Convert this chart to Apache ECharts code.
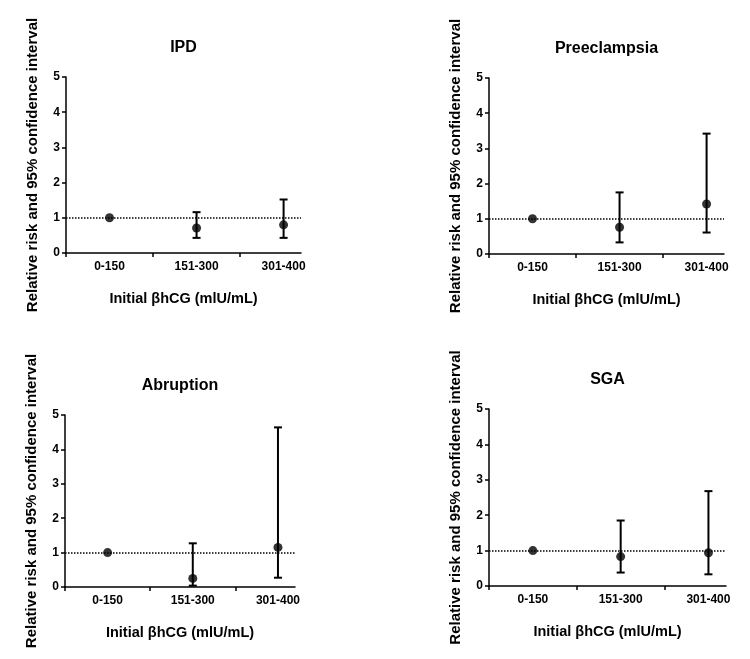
<!DOCTYPE html>
<html>
<head>
<meta charset="utf-8">
<script src="https://cdn.jsdelivr.net/npm/echarts@6/dist/echarts.min.js"></script>
<style>html,body{margin:0;padding:0;background:#fff;}#c{width:750px;height:659px;}</style>
</head>
<body>
<div id="c"></div>
<script>
const categories = ['0-150', '151-300', '301-400'];
const panelTitles = ['IPD', 'Preeclampsia', 'Abruption', 'SGA'];
const yTicks = [0, 1, 2, 3, 4, 5];
const refLine = 1;

const ipdRR   = [1, 0.71, 0.80];
const ipdLow  = [null, 0.43, 0.43];
const ipdHigh = [null, 1.16, 1.52];

const preRR   = [1, 0.76, 1.42];
const preLow  = [null, 0.33, 0.61];
const preHigh = [null, 1.75, 3.42];

const abrRR   = [1, 0.25, 1.15];
const abrLow  = [null, 0.04, 0.27];
const abrHigh = [null, 1.27, 4.64];

const sgaRR   = [1, 0.83, 0.94];
const sgaLow  = [null, 0.38, 0.33];
const sgaHigh = [null, 1.85, 2.68];

const panels = [
  {rr: ipdRR, lo: ipdLow, hi: ipdHigh},
  {rr: preRR, lo: preLow, hi: preHigh},
  {rr: abrRR, lo: abrLow, hi: abrHigh},
  {rr: sgaRR, lo: sgaLow, hi: sgaHigh}
];

const FONT = "'Liberation Sans', Arial, sans-serif";
const grids = [
  {left: 66, top: 77, width: 235, height: 176},
  {left: 489, top: 78, width: 235, height: 176},
  {left: 65, top: 415, width: 230, height: 172},
  {left: 489, top: 409, width: 237, height: 177}
];

const chart = echarts.init(document.getElementById('c'));
const option = {
  backgroundColor: '#fff',
  animation: false,
  textStyle: {fontFamily: FONT},
  title: grids.map((g, i) => ({
    text: panelTitles[i],
    left: g.left + g.width / 2,
    top: g.top - 37,
    textAlign: 'center',
    padding: 0,
    textStyle: {fontFamily: FONT, fontWeight: 'bold', fontSize: 16, color: '#000'}
  })),
  grid: grids.map(g => ({left: g.left, top: g.top, width: g.width, height: g.height, containLabel: false})),
  xAxis: grids.map((g, i) => ({
    type: 'value', gridIndex: i, min: 0, max: 2.7,
    name: 'Initial \u03b2hCG (mlU/mL)', nameLocation: 'middle', nameGap: 38,
    nameTextStyle: {fontFamily: FONT, fontWeight: 'bold', fontSize: 14.5, color: '#000'},
    axisLine: {lineStyle: {color: '#000', width: 1.5}},
    axisTick: {show: true, length: 4, lineStyle: {color: '#000', width: 1.5}, customValues: [0, 1, 2]},
    axisLabel: {customValues: [0.5, 1.5, 2.5], formatter: v => categories[Math.round(v - 0.5)],
      fontFamily: FONT, fontWeight: 'bold', fontSize: 12, color: '#000', margin: 8},
    splitLine: {show: false}
  })),
  yAxis: grids.map((g, i) => ({
    type: 'value', gridIndex: i, min: yTicks[0], max: yTicks[yTicks.length - 1], interval: 1,
    name: 'Relative risk and 95% confidence interval', nameLocation: 'middle', nameGap: 26,
    nameTextStyle: {fontFamily: FONT, fontWeight: 'bold', fontSize: 15, color: '#000'},
    axisLine: {show: true, lineStyle: {color: '#000', width: 1.5}},
    axisTick: {show: true, length: 4, lineStyle: {color: '#000', width: 1.5}},
    axisLabel: {fontFamily: FONT, fontWeight: 'bold', fontSize: 12, color: '#000', margin: 6},
    splitLine: {show: false}
  })),
  series: []
};

panels.forEach((p, i) => {
  option.series.push({
    type: 'custom', xAxisIndex: i, yAxisIndex: i, silent: true,
    data: categories.map((c, k) => [k + 0.5, p.lo[k], p.hi[k]]).filter(d => d[1] != null),
    renderItem: (params, api) => {
      const x = api.value(0);
      const a = api.coord([x, api.value(1)]);
      const b = api.coord([x, api.value(2)]);
      const hw = 4;
      const st = {stroke: '#000', lineWidth: 2};
      return {type: 'group', children: [
        {type: 'line', shape: {x1: a[0], y1: a[1], x2: b[0], y2: b[1]}, style: st},
        {type: 'line', shape: {x1: a[0] - hw, y1: a[1], x2: a[0] + hw, y2: a[1]}, style: st},
        {type: 'line', shape: {x1: b[0] - hw, y1: b[1], x2: b[0] + hw, y2: b[1]}, style: st}
      ]};
    }
  });
  option.series.push({
    type: 'scatter', xAxisIndex: i, yAxisIndex: i, symbol: 'circle', symbolSize: 9,
    itemStyle: {color: '#000'},
    data: categories.map((c, k) => [k + 0.5, p.rr[k]]),
    markLine: {
      silent: true, symbol: 'none', label: {show: false},
      lineStyle: {color: '#000', type: 'dotted', width: 1.5},
      data: [{yAxis: refLine}]
    },
    z: 3
  });
});

chart.setOption(option);
</script>
</body>
</html>
